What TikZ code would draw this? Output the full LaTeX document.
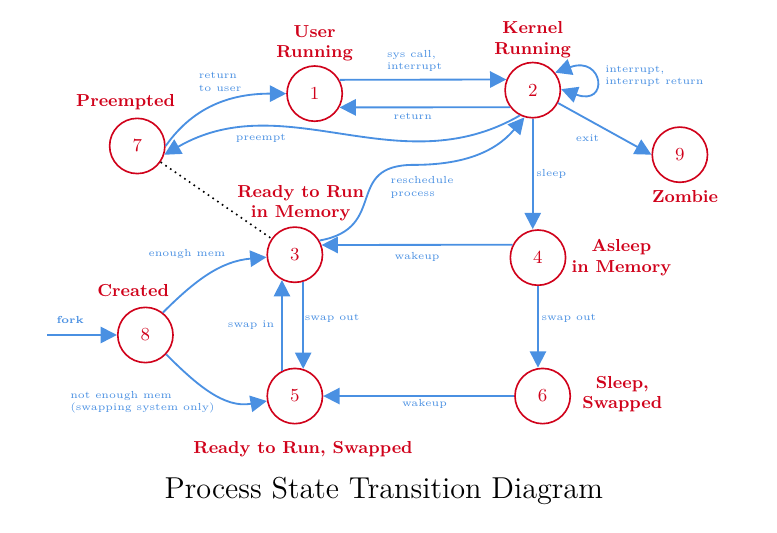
\documentclass[tikz,border=0pt]{standalone}
\usepackage{amsmath}
\usetikzlibrary{arrows.meta,positioning,calc}
\definecolor{procred}{HTML}{D0021B}
\definecolor{procblue}{HTML}{4A90E2}
\tikzset{
    state/.style = {draw=procred, circle, thick, text=procred,
        minimum size=0.95cm, inner sep=0pt, font=\small},
    statename/.style = {text=procred, font=\fontsize{8.5}{10}\selectfont\bfseries, align=center},
    edgelbl/.style = {text=procblue, font=\tiny, align=left},
    arrow/.style = {draw=procblue, line width=0.9pt, ->}
}

\begin{document}
\begin{tikzpicture}[>={Triangle[length=8pt,width=8pt]}]
    \useasboundingbox (0,0) rectangle (13.36,9.15);
        \node [state] (s1) at (5.41,7.54) {1};
        \node [state] (s2) at (9.16,7.60) {2};
        \node [state] (s7) at (2.36,6.64) {7};
        \node [state] (s9) at (11.69,6.49) {9};
        \node [state] (s3) at (5.07,4.77) {3};
        \node [state] (s4) at (9.25,4.72) {4};
        \node [state] (s8) at (2.50,3.39) {8};
        \node [state] (s5) at (5.07,2.34) {5};
        \node [state] (s6) at (9.33,2.34) {6};
        \node [statename, above=-1.5pt of s1] (n1) {User\\Running};
        \node [statename, above=-1.5pt of s2] (n2) {Kernel\\Running};
        \node [statename, above=0pt of s7, xshift=-0.2cm] (n7) {Preempted};
        \node [statename, below=0pt of s9, xshift=0.09cm] (n9) {Zombie};
        \node [statename, above=-1pt of s3, xshift=0.1cm] (n3) {Ready to Run\\in Memory};
        \node [statename, right=-1pt of s4] (n4) {Asleep\\in Memory};
        \node [statename, above=1.5pt of s8, xshift=-0.21cm] (n8) {Created};
        \node [statename, below=4.5pt of s5, xshift=0.14cm] (n5) {Ready to Run, Swapped};
        \node [statename, right=2pt of s6, yshift=0.03cm] (n6) {Sleep,\\Swapped};
        % fork and creation
        \coordinate (forkin) at (0.81,3.39);
        \draw [arrow] (forkin) -- node[edgelbl, above=2pt, pos=.33, font=\tiny\bfseries] {fork} (s8);
        \draw [arrow] (s8.52) to[out=45,in=185] node[edgelbl, above left=0pt and -4pt, pos=.65] {enough mem} (s3);
        \draw [arrow] (s8.-43) to[out=-45,in=190] node[edgelbl, below left, pos=.45, xshift=0.26cm, yshift=0.1cm] {not enough mem\\(swapping system only)} (s5);
        \draw [arrow] (s3.-73) -- node[edgelbl, right=-3pt, pos=.42] {swap out} (s5.73);
        \draw [arrow] (s5.117) -- node[edgelbl, left] {swap in} (s3.-117);
        % kernel / user
        \draw [arrow] (s1.29) -- node[edgelbl, above, pos=.45] {sys call,\\interrupt} (s2.158);
        \draw [arrow] (s2.217) -- node[edgelbl, below=-1pt, pos=.57] {return} (s1.-29);
        \draw [arrow, <->] (s2.38) to[out=20,in=-20,looseness=7.5] node[edgelbl, right=1.5pt, yshift=0.08cm] {interrupt,\\interrupt return} (s2.2);
        \draw [arrow] (s2.-27) -- node[edgelbl, below left=-1.5pt, pos=.5] {exit} (s9.west);
        \draw [arrow] (s2.south) -- node[edgelbl, right=-2pt] {sleep} (s2.south |- s4.north);
        \draw [arrow] (s4.153) -- node[edgelbl, below] {wakeup} (s3.20);
        \draw [arrow] (s4.south) -- node[edgelbl, right=-2pt, pos=.4] {swap out} (s4.south |- s6.north);
        \draw [arrow] (s6) -- node[edgelbl, below=-2pt, pos=.47] {wakeup} (s5);
        \draw [arrow] (s7.0) to[out=55,in=180] node[edgelbl, above=2pt, pos=.52] {return\\to user} (s1);
        \draw [arrow] (s2.243) to[out=210,in=30] node[edgelbl, below=-1pt, pos=.73] {preempt} (s7.-18);
        \coordinate (rsbend) at ($(s3)!.5!(s2)+(0,0.13)$);
        \draw [arrow] (s3.30) to[out=10,in=180,looseness=1.5] (rsbend)
            node[edgelbl, anchor=north west, xshift=-0.53cm, yshift=-0.07cm] {reschedule\\process}
            to[out=0,in=230] (s2.253);
        \draw [dotted, thick] (s7) -- (s3);
    \node [font=\fontsize{14.8}{18}\selectfont] (title) at (6.60,0.70) {Process State Transition Diagram};
\end{tikzpicture}
\end{document}
